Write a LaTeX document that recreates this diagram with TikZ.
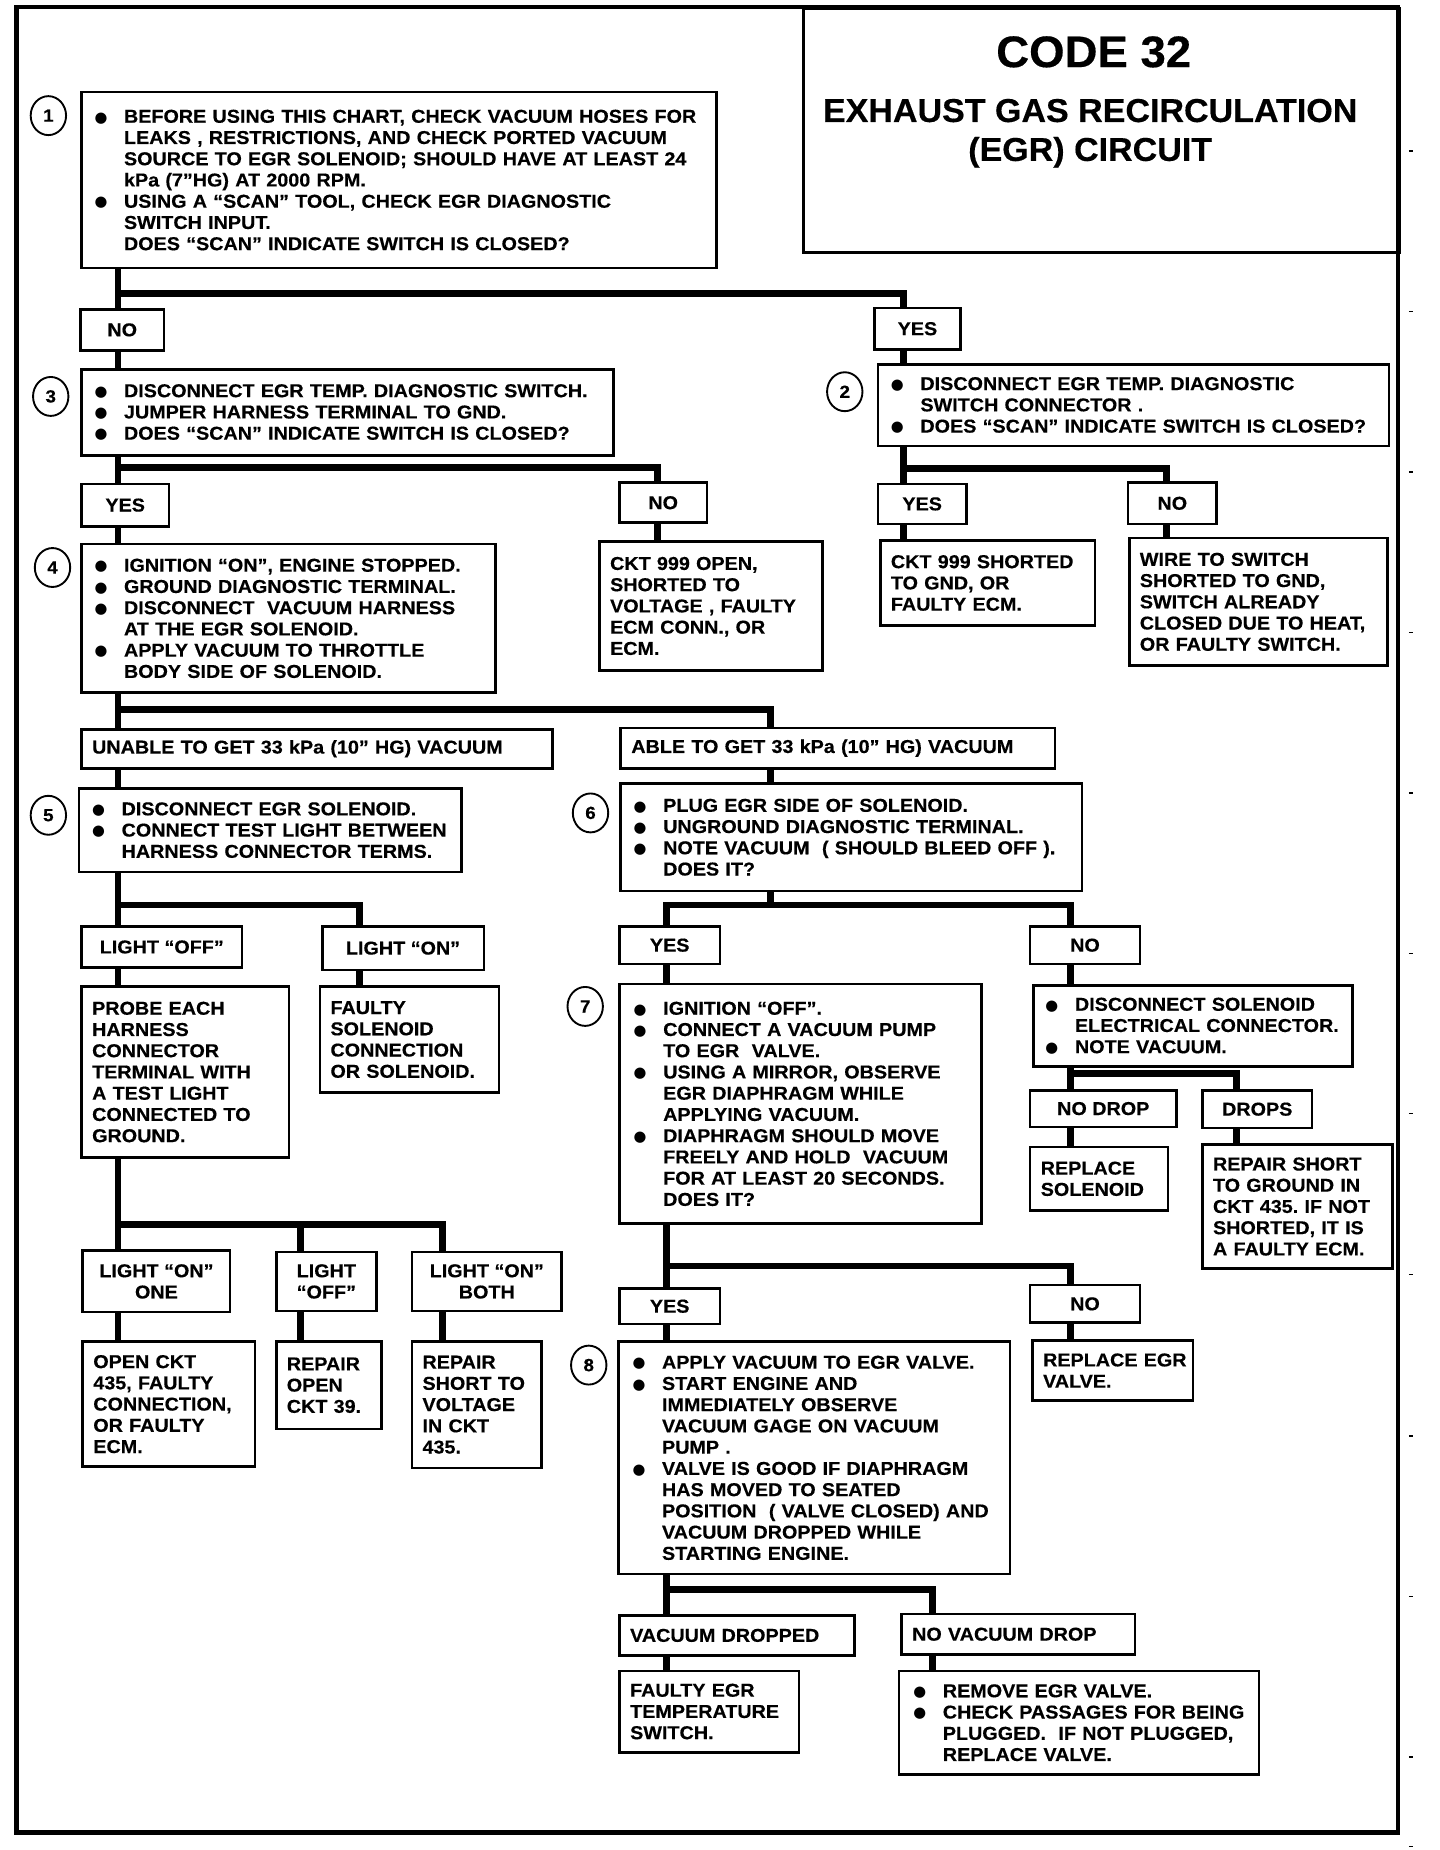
\documentclass[tikz,border=0pt]{standalone}
\usepackage{fontspec}
\setmainfont{Liberation Sans}[FakeStretch=1.06, BoldFeatures={FakeBold=0.4}]
\newfontfamily\titlefam{Liberation Sans}[FakeStretch=1.03, BoldFeatures={FakeBold=0.4}]
\newfontfamily\bulfam{DejaVu Sans}
\frenchspacing
\uchyph=0
\hyphenpenalty=10000
\exhyphenpenalty=10000
\newcommand\bodyf{\bfseries\fontsize{15.8}{18}\selectfont\hyphenpenalty=10000 }
\newcommand\bulx{\makebox[25pt][l]{\raisebox{0.6pt}{\bulfam\fontsize{12.5}{12.5}\selectfont ●}}}
\newcommand\indx{\hspace*{25pt}}
\tikzset{
  tbox/.style={draw, line width=2.2pt, anchor=north west, inner xsep=9pt, inner ysep=0pt, align=left, font=\bodyf},
  bbox/.style={tbox, inner xsep=11pt},
  lbox/.style={draw, line width=2.2pt, anchor=north west, inner sep=0pt, align=center, font=\bodyf},
  conn/.style={line width=5.8pt, line join=miter},
  numc/.style={draw, ellipse, line width=1.6pt, minimum width=30pt, minimum height=33pt, inner sep=0pt, font=\bfseries\fontsize{15}{15}\selectfont},
}
\usetikzlibrary{shapes.geometric}
\begin{document}
\begin{tikzpicture}[x=1pt,y=-1pt]
\useasboundingbox (0,0) rectangle (1220,1568);
\draw[line width=4pt] (14,6) rectangle (1185,1553);
\foreach \ty in {128,264,400,536,672,808,944,1080,1217,1353,1489,1565}
  \draw[line width=1.2pt] (1194,\ty) -- (1198,\ty);

% title
\node[draw, line width=2.5pt, anchor=north west, minimum width=505pt, minimum height=207pt, inner sep=0pt] (title) at (680,6) {};
\node[font=\titlefam\bfseries\fontsize{37.5}{38}\selectfont] (code) at (927,44) {CODE 32};
\node[font=\titlefam\bfseries\fontsize{28}{33}\selectfont, align=center] (egr) at (924,113) {EXHAUST GAS RECIRCULATION\\(EGR) CIRCUIT};

% step boxes
\node[bbox, minimum width=538pt, minimum height=149pt, text width=516pt] (b1) at (68,77) {\bulx BEFORE USING THIS CHART, CHECK VACUUM HOSES~FOR\\ \indx LEAKS , RESTRICTIONS, AND CHECK PORTED~VACUUM\\ \indx SOURCE TO EGR SOLENOID; SHOULD HAVE AT LEAST~24\\ \indx kPa (7”HG) AT 2000 RPM.\\ \bulx USING A “SCAN” TOOL, CHECK EGR DIAGNOSTIC\\ \indx SWITCH INPUT.\\ \indx DOES “SCAN” INDICATE SWITCH IS~CLOSED?};
\node[numc] (c1) at (41,98) {1};

\node[lbox, minimum width=71pt, minimum height=35pt] (no1) at (67,261) {NO};
\node[lbox, minimum width=73pt, minimum height=35pt] (yes1) at (740,260) {YES};

\node[bbox, minimum width=451pt, minimum height=73pt, text width=429pt] (b3) at (68,312) {\bulx DISCONNECT EGR TEMP. DIAGNOSTIC~SWITCH.\\ \bulx JUMPER HARNESS TERMINAL TO GND.\\ \bulx DOES “SCAN” INDICATE SWITCH IS~CLOSED?};
\node[numc] (c3) at (43,336) {3};

\node[bbox, minimum width=433pt, minimum height=69pt, text width=411pt] (b2) at (743,308) {\bulx DISCONNECT EGR TEMP. DIAGNOSTIC\\ \indx SWITCH CONNECTOR .\\ \bulx DOES “SCAN” INDICATE SWITCH IS~CLOSED?};
\node[numc] (c2) at (716,332) {2};

\node[lbox, minimum width=74pt, minimum height=36pt] (yes3) at (68,409) {YES};
\node[lbox, minimum width=74pt, minimum height=34pt] (no3) at (524,408) {NO};
\node[lbox, minimum width=75pt, minimum height=34pt] (yes2) at (743,409) {YES};
\node[lbox, minimum width=75pt, minimum height=35pt] (no2) at (955,408) {NO};

\node[bbox, minimum width=351pt, minimum height=126pt, text width=329pt] (b4) at (68,460) {\bulx IGNITION “ON”, ENGINE~STOPPED.\\ \bulx GROUND DIAGNOSTIC TERMINAL.\\ \bulx DISCONNECT\ \ VACUUM~HARNESS\\ \indx AT THE EGR SOLENOID.\\ \bulx APPLY VACUUM TO THROTTLE\\ \indx BODY SIDE OF SOLENOID.};
\node[numc] (c4) at (44.5,481) {4};

\node[tbox, minimum width=189pt, minimum height=109pt, text width=171pt] (ckt1) at (507,458) {CKT 999 OPEN,\\ SHORTED TO\\ VOLTAGE ,~FAULTY\\ ECM CONN., OR\\ ECM.};
\node[tbox, minimum width=182pt, minimum height=72pt, text width=164pt] (ckt2) at (745,457) {CKT 999~SHORTED\\ TO GND, OR\\ FAULTY ECM.};
\node[tbox, minimum width=219pt, minimum height=108pt, text width=201pt] (wire) at (956,455) {WIRE TO SWITCH\\ SHORTED TO GND,\\ SWITCH ALREADY\\ CLOSED DUE TO~HEAT,\\ OR FAULTY SWITCH.};

\node[tbox, minimum width=399pt, minimum height=33pt, text width=381pt] (unable) at (68,617) {UNABLE TO GET 33 kPa (10” HG) VACUUM};
\node[tbox, minimum width=368pt, minimum height=34pt, text width=350pt] (able) at (525,616) {ABLE TO GET 33 kPa (10” HG) VACUUM};

\node[bbox, minimum width=324pt, minimum height=71pt, text width=302pt] (b5) at (66,667) {\bulx DISCONNECT EGR SOLENOID.\\ \bulx CONNECT TEST LIGHT~BETWEEN\\ \indx HARNESS CONNECTOR~TERMS.};
\node[numc] (c5) at (41,691) {5};

\node[bbox, minimum width=391pt, minimum height=91pt, text width=369pt] (b6) at (525,663) {\bulx PLUG EGR SIDE OF SOLENOID.\\ \bulx UNGROUND DIAGNOSTIC~TERMINAL.\\ \bulx NOTE VACUUM\ \ ( SHOULD BLEED~OFF ).\\ \indx DOES IT?};
\node[numc] (c6) at (500.5,689) {6};

\node[lbox, minimum width=136pt, minimum height=35pt] (loff) at (68,784) {LIGHT “OFF”};
\node[lbox, minimum width=137pt, minimum height=37pt] (lon) at (272,784) {LIGHT “ON”};
\node[lbox, minimum width=85pt, minimum height=32pt] (yes6) at (524,784) {YES};
\node[lbox, minimum width=93pt, minimum height=32pt] (no6) at (872,784) {NO};

\node[tbox, minimum width=176pt, minimum height=145pt, text width=158pt] (probe) at (68,835) {PROBE EACH\\ HARNESS\\ CONNECTOR\\ TERMINAL WITH\\ A TEST LIGHT\\ CONNECTED TO\\ GROUND.};
\node[tbox, minimum width=152pt, minimum height=90pt, text width=134pt] (faulty) at (270,835) {FAULTY\\ SOLENOID\\ CONNECTION\\ OR SOLENOID.};

\node[bbox, inner xsep=12pt, minimum width=307pt, minimum height=203pt, text width=283pt] (b7) at (524,833) {\bulx IGNITION “OFF”.\\ \bulx CONNECT A VACUUM~PUMP\\ \indx TO EGR\ \ VALVE.\\ \bulx USING A MIRROR, OBSERVE\\ \indx EGR DIAPHRAGM WHILE\\ \indx APPLYING VACUUM.\\ \bulx DIAPHRAGM SHOULD MOVE\\ \indx FREELY AND HOLD\ \ VACUUM\\ \indx FOR AT LEAST 20~SECONDS.\\ \indx DOES IT?};
\node[numc] (c7) at (496,853) {7};

\node[bbox, inner xsep=10pt, minimum width=270pt, minimum height=69pt, text width=250pt] (disc) at (875,834) {\bulx DISCONNECT SOLENOID\\ \indx ELECTRICAL~CONNECTOR.\\ \bulx NOTE VACUUM.};

\node[lbox, minimum width=124pt, minimum height=31pt] (nodrop) at (872,923) {NO DROP};
\node[lbox, minimum width=93pt, minimum height=32pt] (drops) at (1018,923) {DROPS};
\node[tbox, minimum width=117pt, minimum height=54pt, text width=99pt] (replsol) at (872,971) {REPLACE\\ SOLENOID};
\node[tbox, minimum width=161pt, minimum height=105pt, text width=143pt] (repgnd) at (1018,969) {REPAIR~SHORT\\ TO GROUND~IN\\ CKT 435. IF~NOT\\ SHORTED, IT~IS\\ A FAULTY~ECM.};

\node[lbox, minimum width=125pt, minimum height=52pt] (lon1) at (69,1059) {LIGHT “ON”\\ ONE};
\node[lbox, minimum width=85pt, minimum height=50pt] (loff2) at (233,1060) {LIGHT\\ “OFF”};
\node[lbox, minimum width=127pt, minimum height=50pt] (lboth) at (348,1060) {LIGHT “ON”\\ BOTH};

\node[lbox, minimum width=85pt, minimum height=30pt] (yes7) at (524,1091) {YES};
\node[lbox, minimum width=93pt, minimum height=32pt] (no7) at (872,1088) {NO};

\node[tbox, minimum width=146pt, minimum height=106pt, text width=128pt] (openckt) at (69,1136) {OPEN CKT\\ 435, FAULTY\\ CONNECTION,\\ OR FAULTY\\ ECM.};
\node[tbox, minimum width=89pt, minimum height=74pt, text width=71pt] (repopen) at (233,1136) {REPAIR\\ OPEN\\ CKT~39.};
\node[tbox, minimum width=110pt, minimum height=107pt, text width=92pt] (repshort) at (348,1136) {REPAIR\\ SHORT~TO\\ VOLTAGE\\ IN~CKT\\ 435.};

\node[tbox, minimum width=136pt, minimum height=51pt, text width=118pt] (replegr) at (874,1135) {REPLACE~EGR\\ VALVE.};

\node[bbox, inner xsep=12pt, minimum width=332pt, minimum height=197pt, text width=308pt] (b8) at (523,1136) {\bulx APPLY VACUUM TO EGR~VALVE.\\ \bulx START ENGINE AND\\ \indx IMMEDIATELY OBSERVE\\ \indx VACUUM GAGE ON~VACUUM\\ \indx PUMP .\\ \bulx VALVE IS GOOD IF~DIAPHRAGM\\ \indx HAS MOVED TO SEATED\\ \indx POSITION\ \ ( VALVE CLOSED)~AND\\ \indx VACUUM DROPPED~WHILE\\ \indx STARTING ENGINE.};
\node[numc] (c8) at (499,1157) {8};

\node[tbox, minimum width=199pt, minimum height=34pt, text width=181pt] (vacd) at (524,1368) {VACUUM DROPPED};
\node[tbox, minimum width=198pt, minimum height=34pt, text width=180pt] (novac) at (763,1367) {NO VACUUM DROP};
\node[tbox, minimum width=152pt, minimum height=69pt, text width=134pt] (fegr) at (524,1415) {FAULTY EGR\\ TEMPERATURE\\ SWITCH.};
\node[bbox, inner xsep=12pt, minimum width=305pt, minimum height=88pt, text width=281pt] (remove) at (761,1415) {\bulx REMOVE EGR VALVE.\\ \bulx CHECK PASSAGES FOR~BEING\\ \indx PLUGGED.\ \ IF NOT~PLUGGED,\\ \indx REPLACE VALVE.};

% trunk positions
\coordinate (xA) at (100,0);
\coordinate (xB) at (766,0);
\coordinate (xC) at (557,0);
\coordinate (xE) at (989,0);
\coordinate (xF) at (653,0);
\coordinate (xG) at (305,0);
\coordinate (xH) at (255,0);
\coordinate (xI) at (375,0);
\coordinate (xJ) at (565,0);
\coordinate (xK) at (907,0);
\coordinate (xL) at (1048,0);
\coordinate (xM) at (790,0);
\coordinate (j1) at (100,249);
\coordinate (j3) at (100,396);
\coordinate (j2) at (766,397);
\coordinate (j4) at (100,601);
\coordinate (j5) at (100,767);
\coordinate (j6) at (100,1038);
\coordinate (j7) at (653,767);
\coordinate (j8) at (565,1073);
\coordinate (j9) at (907,910);
\coordinate (j10) at (565,1347);

% connectors
\draw[conn] (b1.south -| xA) -- (no1.north -| xA);
\draw[conn] (j1) -| (yes1.north -| xB);
\draw[conn] (no1.south -| xA) -- (b3.north -| xA);
\draw[conn] (yes1.south -| xB) -- (b2.north -| xB);
\draw[conn] (b3.south -| xA) -- (yes3.north -| xA);
\draw[conn] (j3) -| (no3.north -| xC);
\draw[conn] (b2.south -| xB) -- (yes2.north -| xB);
\draw[conn] (j2) -| (no2.north -| xE);
\draw[conn] (no3.south -| xC) -- (ckt1.north -| xC);
\draw[conn] (yes2.south -| xB) -- (ckt2.north -| xB);
\draw[conn] (no2.south -| xE) -- (wire.north -| xE);
\draw[conn] (yes3.south -| xA) -- (b4.north -| xA);
\draw[conn] (b4.south -| xA) -- (unable.north -| xA);
\draw[conn] (j4) -| (able.north -| xF);
\draw[conn] (unable.south -| xA) -- (b5.north -| xA);
\draw[conn] (able.south -| xF) -- (b6.north -| xF);
\draw[conn] (b5.south -| xA) -- (loff.north -| xA);
\draw[conn] (j5) -| (lon.north -| xG);
\draw[conn] (loff.south -| xA) -- (probe.north -| xA);
\draw[conn] (lon.south -| xG) -- (faulty.north -| xG);
\draw[conn] (probe.south -| xA) -- (lon1.north -| xA);
\draw[conn] (j6) -| (lboth.north -| xI);
\draw[conn] (j6 -| xH) -- (loff2.north -| xH);
\draw[conn] (lon1.south -| xA) -- (openckt.north -| xA);
\draw[conn] (loff2.south -| xH) -- (repopen.north -| xH);
\draw[conn] (lboth.south -| xI) -- (repshort.north -| xI);
\draw[conn] (b6.south -| xF) -- (j7);
\draw[conn] (yes6.north -| xJ) -- (j7 -| xJ) -- (j7 -| xK) -- (no6.north -| xK);
\draw[conn] (yes6.south -| xJ) -- (b7.north -| xJ);
\draw[conn] (no6.south -| xK) -- (disc.north -| xK);
\draw[conn] (b7.south -| xJ) -- (yes7.north -| xJ);
\draw[conn] (j8) -| (no7.north -| xK);
\draw[conn] (yes7.south -| xJ) -- (b8.north -| xJ);
\draw[conn] (no7.south -| xK) -- (replegr.north -| xK);
\draw[conn] (disc.south -| xK) -- (nodrop.north -| xK);
\draw[conn] (j9) -| (drops.north -| xL);
\draw[conn] (nodrop.south -| xK) -- (replsol.north -| xK);
\draw[conn] (drops.south -| xL) -- (repgnd.north -| xL);
\draw[conn] (b8.south -| xJ) -- (vacd.north -| xJ);
\draw[conn] (j10) -| (novac.north -| xM);
\draw[conn] (vacd.south -| xJ) -- (fegr.north -| xJ);
\draw[conn] (novac.south -| xM) -- (remove.north -| xM);
\end{tikzpicture}
\end{document}
